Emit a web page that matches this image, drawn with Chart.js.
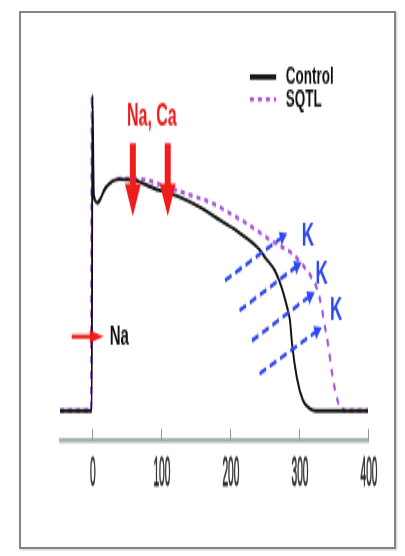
<!DOCTYPE html>
<html>
<head>
<meta charset="utf-8">
<script src="https://cdn.jsdelivr.net/npm/chart.js@4.4.1/dist/chart.umd.min.js"></script>
<style>
  html, body { margin: 0; padding: 0; background: #fff; }
  body { width: 405px; height: 556px; position: relative; overflow: hidden; }
  #frame {
    position: absolute; left: 19px; top: 11px; width: 377px; height: 538px;
    box-sizing: border-box; border: 2px solid #858585;
    box-shadow: 1px 1px 2px rgba(0, 0, 0, 0.2);
  }
  /* the figure is drawn flat and stretched tall, like the printed panel */
  #plot {
    position: absolute; left: 0; top: 0; width: 405px; height: 292px;
    transform: scaleY(1.904); transform-origin: 0 0;
  }
</style>
</head>
<body>
<div id="frame"></div>
<div id="plot"><canvas id="ap" width="405" height="292"></canvas></div>
<script>
// time in ms, membrane potential in mV
const xTicks = [0, 100, 200, 300, 400];

const controlTime = [-46, 0, 1, 3, 8, 20, 40, 62, 80, 100, 128, 157, 186, 215, 244, 251, 265, 275, 283, 287, 290, 297, 306, 316, 324, 400];
const controlVolt = [-85, -85, 41, 1, -2, 4, 7.4, 7, 5, 2.8, 0.2, -3.8, -9, -14.2, -21, -23.8, -29, -35.8, -43.8, -49, -58.2, -71.8, -81, -84.2, -85, -85];

const sqtlTime = [-46, -1, 0, 2, 8, 20, 40, 62, 80, 100, 135, 175, 200, 224, 243, 255, 265, 290, 304, 319, 326, 333, 336, 342, 349, 356, 362, 370, 400];
const sqtlVolt = [-85, -85, 41, 1, -2, 4, 7.6, 7.6, 7, 5.2, 1.8, -2.2, -6.2, -10.2, -13.8, -16.2, -18, -22.2, -26.2, -32.2, -36.2, -43.8, -49, -58.2, -71.8, -81, -84.2, -85, -85];

const RED = '#ee1c1c';
const BLUE = '#2e48f2';
const PURPLE = '#a653de';

const toPoints = (ts, vs) => ts.map((t, i) => ({ x: t, y: vs[i] }));

const downArrow = (ctx, cx, top, tip) => {
  const hh = 17, hw = 8, sw = 3;
  ctx.beginPath();
  ctx.moveTo(cx - sw, top);
  ctx.lineTo(cx + sw, top);
  ctx.lineTo(cx + sw, tip - hh);
  ctx.lineTo(cx + hw, tip - hh);
  ctx.lineTo(cx, tip);
  ctx.lineTo(cx - hw, tip - hh);
  ctx.lineTo(cx - sw, tip - hh);
  ctx.closePath();
  ctx.fill();
};

const headAt = (ctx, x0, y0, x1, y1, len, half) => {
  const a = Math.atan2(y1 - y0, x1 - x0);
  ctx.beginPath();
  ctx.moveTo(x1, y1);
  ctx.lineTo(x1 - len * Math.cos(a) + half * Math.sin(a), y1 - len * Math.sin(a) - half * Math.cos(a));
  ctx.lineTo(x1 - len * Math.cos(a) - half * Math.sin(a), y1 - len * Math.sin(a) + half * Math.cos(a));
  ctx.closePath();
  ctx.fill();
};

const annotations = {
  id: 'annotations',
  afterDraw(chart) {
    const { ctx, chartArea, scales: { x, y } } = chart;
    const px = (t) => x.getPixelForValue(t);
    const py = (v) => y.getPixelForValue(v);
    ctx.save();

    // inward tick marks and squeezed tick labels on the time axis
    ctx.strokeStyle = '#8c9696';
    ctx.lineWidth = 1;
    ctx.fillStyle = '#2a2a2a';
    ctx.font = '22.5px "Liberation Sans", Arial, sans-serif';
    ctx.textAlign = 'center';
    ctx.textBaseline = 'middle';
    x.ticks.forEach((tk) => {
      const xp = Math.round(px(tk.value)) + 0.5;
      ctx.beginPath();
      ctx.moveTo(xp, chartArea.bottom);
      ctx.lineTo(xp, chartArea.bottom - 6.3);
      ctx.stroke();
      ctx.save();
      ctx.translate(px(tk.value) + 1, chartArea.bottom + 17.5);
      ctx.scale(0.45, 1);
      ctx.lineWidth = 0.8;
      ctx.strokeStyle = '#555';
      ctx.strokeText(String(tk.value), 0, 0);
      ctx.fillText(String(tk.value), 0, 0);
      ctx.restore();
    });

    // Na, Ca label and the two downward red arrows
    ctx.fillStyle = RED;
    ctx.font = 'bold 16px "Liberation Sans", Arial, sans-serif';
    ctx.fillText('Na, Ca', px(87), py(32.2));
    downArrow(ctx, px(59.5), py(21.8), py(-7.4));
    downArrow(ctx, px(110), py(21.8), py(-7.4));

    // Na arrow at the upstroke
    const ny = py(-55.4);
    ctx.fillRect(px(-29), ny - 1.1, px(8) - px(-29), 2.2);
    headAt(ctx, px(0), ny, px(17.4), ny, 14, 3.2);
    ctx.fillStyle = '#111';
    ctx.font = 'bold 15px "Liberation Sans", Arial, sans-serif';
    ctx.textAlign = 'left';
    ctx.fillText('Na', px(26), ny);

    // dashed blue K arrows across repolarisation
    const kArrows = [[193, -33, 283, -14.2], [214, -45, 304, -25.8], [232, -57, 323, -37.8], [243, -70.2, 333, -51.8]];
    ctx.strokeStyle = BLUE;
    ctx.fillStyle = BLUE;
    ctx.lineWidth = 2.2;
    kArrows.forEach(([t0, v0, t1, v1]) => {
      const x0 = px(t0), y0 = py(v0), x1 = px(t1), y1 = py(v1);
      const a = Math.atan2(y1 - y0, x1 - x0);
      ctx.setLineDash([7, 4]);
      ctx.beginPath();
      ctx.moveTo(x0, y0);
      ctx.lineTo(x1 - 5 * Math.cos(a), y1 - 5 * Math.sin(a));
      ctx.stroke();
      ctx.setLineDash([]);
      headAt(ctx, x0, y0, x1, y1, 7.5, 3.8);
    });
    ctx.font = 'bold 17px "Liberation Sans", Arial, sans-serif';
    ctx.textAlign = 'center';
    [[313, -15.4], [333, -31], [354, -45]].forEach(([t, v]) => ctx.fillText('K', px(t), py(v)));

    // legend, top right
    const rows = [48.2, 39.3];
    chart.data.datasets.forEach((ds, i) => {
      const ly = py(rows[i]);
      ctx.strokeStyle = ds.borderColor;
      ctx.lineWidth = i === 0 ? 2.8 : 2.2;
      ctx.setLineDash(ds.borderDash || []);
      ctx.beginPath();
      ctx.moveTo(px(229), ly);
      ctx.lineTo(px(267), ly);
      ctx.stroke();
      ctx.setLineDash([]);
      ctx.fillStyle = '#111';
      ctx.font = 'bold 13.5px "Liberation Sans", Arial, sans-serif';
      ctx.textAlign = 'left';
      ctx.fillText(ds.label, px(281), ly);
    });

    ctx.restore();
  }
};

new Chart(document.getElementById('ap'), {
  type: 'line',
  data: {
    datasets: [
      {
        label: 'Control',
        data: toPoints(controlTime, controlVolt),
        borderColor: '#111',
        borderWidth: 1.9,
        pointRadius: 0,
        cubicInterpolationMode: 'monotone'
      },
      {
        label: 'SQTL',
        data: toPoints(sqtlTime, sqtlVolt),
        borderColor: PURPLE,
        borderWidth: 2.2,
        borderDash: [4, 4],
        pointRadius: 0,
        cubicInterpolationMode: 'monotone'
      }
    ]
  },
  options: {
    responsive: false,
    animation: false,
    events: [],
    layout: { padding: { left: 60, right: 37, top: 31.5, bottom: 60.5 } },
    plugins: { legend: { display: false }, tooltip: { enabled: false } },
    scales: {
      x: {
        type: 'linear',
        min: -46,
        max: 400,
        afterBuildTicks: (axis) => { axis.ticks = xTicks.map((v) => ({ value: v })); },
        grid: { display: false, drawTicks: false },
        border: { display: true, color: '#a5b1b2', width: 2.5 },
        ticks: { display: false }
      },
      y: {
        type: 'linear',
        min: -97,
        max: 55,
        display: false
      }
    }
  },
  plugins: [annotations]
});
</script>
</body>
</html>
